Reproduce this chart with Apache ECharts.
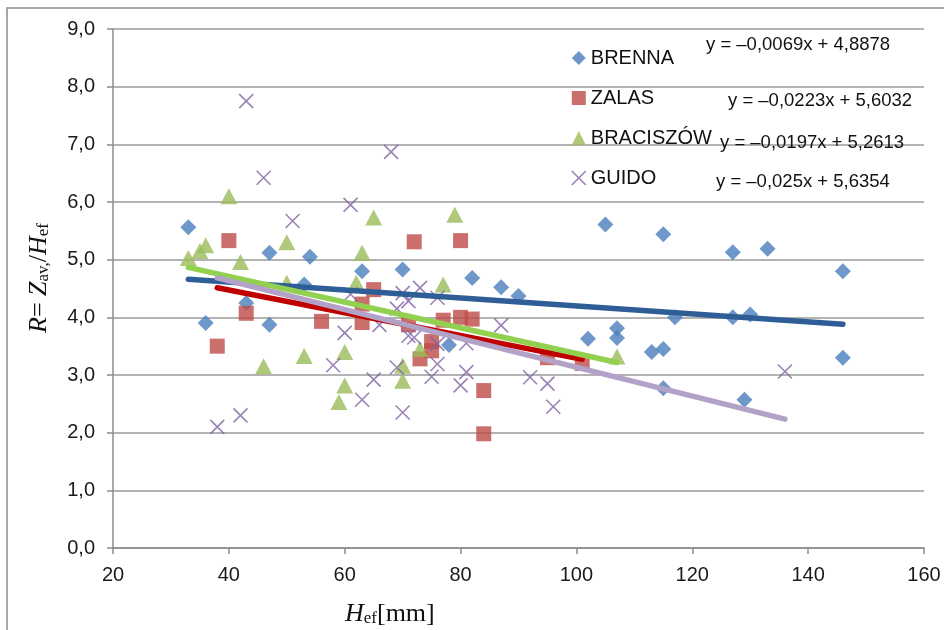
<!DOCTYPE html>
<html>
<head>
<meta charset="utf-8">
<script src="https://cdn.jsdelivr.net/npm/echarts@6/dist/echarts.min.js"></script>
<style>
  html, body { margin: 0; padding: 0; background: #ffffff; }
  #chart { width: 944px; height: 630px; }
</style>
</head>
<body>
<div id="chart"></div>
<script>
// Measured ratio R = Zav/Hef against effective height Hef [mm] for four sites
const seriesNames = ['BRENNA', 'ZALAS', 'BRACISZÓW', 'GUIDO'];

const brenna = [
  [33, 5.56], [36, 3.90], [43, 4.25], [47, 5.12], [47, 3.87], [53, 4.57], [54, 5.05],
  [63, 4.80], [70, 4.83], [78, 3.52], [82, 4.68], [87, 4.52], [90, 4.37], [102, 3.63],
  [105, 5.61], [107, 3.81], [107, 3.64], [113, 3.40], [115, 5.44], [115, 3.45], [115, 2.77],
  [117, 4.00], [127, 5.13], [127, 4.00], [129, 2.57], [130, 4.05], [133, 5.19],
  [146, 4.80], [146, 3.30]
];

const zalas = [
  [38, 3.50], [40, 5.33], [43, 4.07], [56, 3.93], [63, 4.23], [63, 3.91], [65, 4.48],
  [71, 3.87], [72, 5.31], [73, 3.28], [75, 3.42], [75, 3.58], [77, 3.95], [80, 5.33],
  [80, 4.00], [82, 3.97], [84, 2.73], [84, 1.98], [95, 3.30], [101, 3.20]
];

const braciszow = [
  [33, 5.03], [35, 5.15], [36, 5.25], [40, 6.10], [42, 4.96], [46, 3.15], [50, 5.30],
  [50, 4.60], [53, 3.33], [59, 2.53], [60, 3.40], [60, 2.82], [62, 4.60], [63, 5.12],
  [65, 5.73], [70, 3.16], [70, 2.90], [73, 3.45], [77, 4.57], [79, 5.78], [107, 3.32]
];

const guido = [
  [38, 2.10], [42, 2.30], [43, 7.75], [46, 6.42], [51, 5.67], [58, 3.17], [60, 3.73],
  [61, 5.95], [61, 4.40], [63, 2.57], [65, 2.92], [66, 3.87], [68, 6.87], [69, 4.15],
  [69, 3.13], [70, 4.42], [70, 2.35], [71, 4.28], [71, 3.68], [72, 3.65], [73, 4.51],
  [75, 2.97], [76, 3.54], [76, 4.34], [76, 3.19], [80, 2.82], [81, 3.55], [81, 3.05],
  [87, 3.86], [92, 2.96], [95, 2.85], [96, 2.45], [136, 3.06]
];

// Linear fits y = a*x + b, one per site (same order as seriesNames)
const fitSlopes = [-0.0069, -0.0197, -0.0223, -0.025];
const fitIntercepts = [4.8878, 5.2613, 5.6032, 5.6354];
// Fit whose equation is printed beside each legend row
const equationRows = [0, 2, 1, 3];

const xMin = 20, xMax = 160, xStep = 20;
const yMin = 0, yMax = 9, yStep = 1;

const pointData = [brenna, zalas, braciszow, guido];
const markerColors = ['#4a7ebb', '#be4b48', '#9bbb59', '#8064a2'];
const fitColors = ['#2f5e96', '#c00000', '#92d050', '#b3a2c7'];
const symbols = ['diamond', 'rect', 'triangle', 'path://M0,0L10,10M10,0L0,10'];
const symbolSizes = [16, 15, [17, 16], 14];

const comma = v => String(v).replace('.', ',');
const equationText = i =>
  'y = ' + (fitSlopes[i] < 0 ? '–' : '') + comma(Math.abs(fitSlopes[i])) +
  'x + ' + comma(fitIntercepts[i]);

const scatterSeries = pointData.map((pts, i) => {
  const isCross = i === 3;
  return {
    name: seriesNames[i],
    type: 'scatter',
    data: pts,
    symbol: symbols[i],
    symbolSize: symbolSizes[i],
    z: 2,
    itemStyle: isCross
      ? { color: 'rgba(0,0,0,0)', borderColor: markerColors[i], borderWidth: 1.6 }
      : { color: markerColors[i] },
    emphasis: { disabled: true }
  };
});

const fitSeries = pointData.map((pts, i) => {
  const xs = pts.map(p => p[0]);
  const x0 = Math.min(...xs), x1 = Math.max(...xs);
  return {
    name: seriesNames[i] + ' fit',
    type: 'line',
    data: [[x0, fitSlopes[i] * x0 + fitIntercepts[i]], [x1, fitSlopes[i] * x1 + fitIntercepts[i]]],
    showSymbol: false,
    symbol: 'none',
    z: 3,
    lineStyle: { color: fitColors[i], width: 5.5, cap: 'round' },
    emphasis: { disabled: true },
    silent: true
  };
});

const eqPositions = [[706, 45], [728, 101], [720, 143], [716, 182]];

const chart = echarts.init(document.getElementById('chart'), null, { renderer: 'canvas' });

chart.setOption({
  animation: false,
  backgroundColor: '#ffffff',
  grid: { left: 113, right: 20, top: 29, bottom: 82, containLabel: false },
  xAxis: {
    type: 'value',
    min: xMin, max: xMax, interval: xStep,
    axisLine: { show: true, lineStyle: { color: '#8c8c8c', width: 1.5 } },
    axisTick: { show: true, inside: false, length: 6, lineStyle: { color: '#8c8c8c', width: 1.5 } },
    axisLabel: { fontFamily: 'Liberation Sans, Arial, sans-serif', fontSize: 20, color: '#1a1a1a', margin: 17 },
    splitLine: { show: false }
  },
  yAxis: {
    type: 'value',
    min: yMin, max: yMax, interval: yStep,
    axisLine: { show: true, lineStyle: { color: '#8c8c8c', width: 1.5 } },
    axisTick: { show: true, inside: false, length: 6, lineStyle: { color: '#8c8c8c', width: 1.5 } },
    axisLabel: {
      fontFamily: 'Liberation Sans, Arial, sans-serif', fontSize: 20, color: '#1a1a1a', margin: 18,
      formatter: v => v.toFixed(1).replace('.', ',')
    },
    splitLine: { show: true, lineStyle: { color: '#9a9a9a', width: 1.5 } }
  },
  legend: {
    orient: 'vertical',
    left: 566,
    top: 43,
    itemGap: 20,
    itemWidth: 14,
    itemHeight: 14,
    selectedMode: false,
    textStyle: { fontFamily: 'Liberation Sans, Arial, sans-serif', fontSize: 20, color: '#111111' },
    data: seriesNames.map((n, i) => i === 3
      ? { name: n, icon: symbols[3], itemStyle: { color: 'rgba(0,0,0,0)', borderColor: markerColors[3], borderWidth: 1.6 } }
      : { name: n, icon: symbols[i] })
  },
  graphic: [
    {
      type: 'rect',
      shape: { x: 7, y: 8, width: 960, height: 650 },
      style: { fill: 'none', stroke: '#8c8c8c', lineWidth: 1.5 },
      silent: true
    },
    ...equationRows.map((fi, row) => ({
      type: 'text',
      x: eqPositions[row][0],
      y: eqPositions[row][1],
      style: {
        text: equationText(fi),
        font: '18.5px "Liberation Sans", Arial, sans-serif',
        fill: '#111111',
        verticalAlign: 'middle',
        align: 'left'
      },
      z: 10
    })),
    {
      type: 'text',
      x: 345,
      y: 614,
      style: {
        text: '{i|H}{s|ef}{n|[mm]}',
        verticalAlign: 'middle',
        align: 'left',
        rich: {
          i: { fontFamily: 'Liberation Serif, Times New Roman, serif', fontStyle: 'italic', fontSize: 26, fill: '#111', verticalAlign: 'bottom' },
          s: { fontFamily: 'Liberation Serif, Times New Roman, serif', fontSize: 17, fill: '#111', verticalAlign: 'bottom' },
          n: { fontFamily: 'Liberation Serif, Times New Roman, serif', fontSize: 26, fill: '#111', verticalAlign: 'bottom' }
        }
      }
    },
    {
      type: 'text',
      x: 39,
      y: 278,
      rotation: Math.PI / 2,
      style: {
        text: '{i|R}{n|= }{i|Z}{s|av,}{n|/}{i|H}{s|ef}',
        verticalAlign: 'middle',
        align: 'center',
        rich: {
          i: { fontFamily: 'Liberation Serif, Times New Roman, serif', fontStyle: 'italic', fontSize: 26, fill: '#111', verticalAlign: 'bottom' },
          s: { fontFamily: 'Liberation Serif, Times New Roman, serif', fontSize: 17, fill: '#111', verticalAlign: 'bottom' },
          n: { fontFamily: 'Liberation Serif, Times New Roman, serif', fontSize: 26, fill: '#111', verticalAlign: 'bottom' }
        }
      }
    }
  ],
  series: [...scatterSeries, ...fitSeries]
});
</script>
</body>
</html>
